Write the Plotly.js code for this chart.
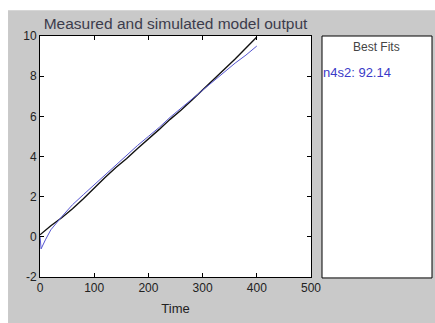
<!DOCTYPE html>
<html>
<head>
<meta charset="utf-8">
<script src="https://cdn.plot.ly/plotly-3.0.1.min.js"></script>
<style>html,body{margin:0;padding:0;background:#fff;}#chart{width:435px;height:323px;}</style>
</head>
<body>
<div id="chart"></div>
<script>
// Measured output (black)
var timeMeasured = [0, 20, 40, 60, 80, 100, 120, 140, 160, 180, 200, 220, 240, 260, 280, 300, 320, 340, 360, 380, 400];
var measured = [0.1, 0.55, 0.95, 1.4, 1.9, 2.45, 2.95, 3.45, 3.9, 4.4, 4.9, 5.35, 5.85, 6.3, 6.8, 7.3, 7.8, 8.3, 8.85, 9.4, 9.95];
// Simulated model output (blue)
var timeSim = [0, 2, 10, 20, 40, 60, 80, 100, 120, 140, 160, 180, 200, 220, 240, 260, 280, 300, 320, 340, 360, 380, 400];
var simulated = [0.05, -0.6, -0.15, 0.35, 1.0, 1.6, 2.1, 2.6, 3.1, 3.6, 4.05, 4.55, 5.0, 5.45, 5.95, 6.4, 6.85, 7.3, 7.75, 8.2, 8.65, 9.05, 9.5];
var xTicks = [0, 100, 200, 300, 400, 500];
var yTicks = [-2, 0, 2, 4, 6, 8, 10];
var titleText = "Measured and simulated model output";
var xTitle = "Time";
var fitsTitle = "Best Fits";
var fitsEntry = "n4s2: 92.14";

var traces = [
  {x: timeMeasured, y: measured, type: "scatter", mode: "lines",
   line: {color: "#111111", width: 1.4}, hoverinfo: "skip"},
  {x: timeSim, y: simulated, type: "scatter", mode: "lines",
   line: {color: "#5555d0", width: 1}, hoverinfo: "skip"}
];

var axisCommon = {
  showgrid: false, zeroline: false, showline: true, linecolor: "#000",
  linewidth: 1, mirror: "ticks", ticks: "inside", ticklen: 4,
  tickcolor: "#000", tickfont: {family: "Liberation Sans, Arial, sans-serif", size: 12, color: "#222"}
};

var layout = {
  width: 435, height: 323,
  margin: {l: 40, r: 124, t: 36, b: 46},
  paper_bgcolor: "#c9c9c9",
  plot_bgcolor: "#ffffff",
  showlegend: false,
  title: {text: titleText, x: 0.5, xref: "paper", y: 0.945, yref: "container",
          font: {family: "Liberation Sans, Arial, sans-serif", size: 15.5, color: "#3c3c4c"}},
  xaxis: Object.assign({}, axisCommon, {range: [0, 500], tickvals: xTicks, ticktext: xTicks.map(String),
          title: {text: xTitle, standoff: 9, font: {family: "Liberation Sans, Arial, sans-serif", size: 13, color: "#222"}}}),
  yaxis: Object.assign({}, axisCommon, {range: [-2, 10], tickvals: yTicks, ticktext: yTicks.map(String)}),
  shapes: [
    {type: "rect", xref: "paper", yref: "paper", x0: -0.3, x1: 1.7, y0: 1.107, y1: 1.3,
     fillcolor: "#ffffff", line: {width: 0}, layer: "below"},
    {type: "rect", xref: "paper", yref: "paper", x0: -0.3, x1: -0.118, y0: -0.3, y1: 1.3,
     fillcolor: "#ffffff", line: {width: 0}, layer: "below"},
    {type: "rect", xref: "paper", yref: "paper", x0: 1.0406, x1: 1.4465, y0: -0.004, y1: 1.0,
     fillcolor: "#ffffff", line: {color: "#000", width: 1}, layer: "below"}
  ],
  annotations: [
    {text: fitsTitle, xref: "paper", yref: "paper", x: 1.2435, y: 0.955, xanchor: "center", yanchor: "middle",
     showarrow: false, font: {family: "Liberation Sans, Arial, sans-serif", size: 12, color: "#444"}},
    {text: fitsEntry, xref: "paper", yref: "paper", x: 1.038, y: 0.85, xanchor: "left", yanchor: "middle",
     showarrow: false, font: {family: "Liberation Sans, Arial, sans-serif", size: 13, color: "#3a3ac8"}}
  ]
};

Plotly.newPlot("chart", traces, layout, {staticPlot: true, displayModeBar: false});
</script>
</body>
</html>
